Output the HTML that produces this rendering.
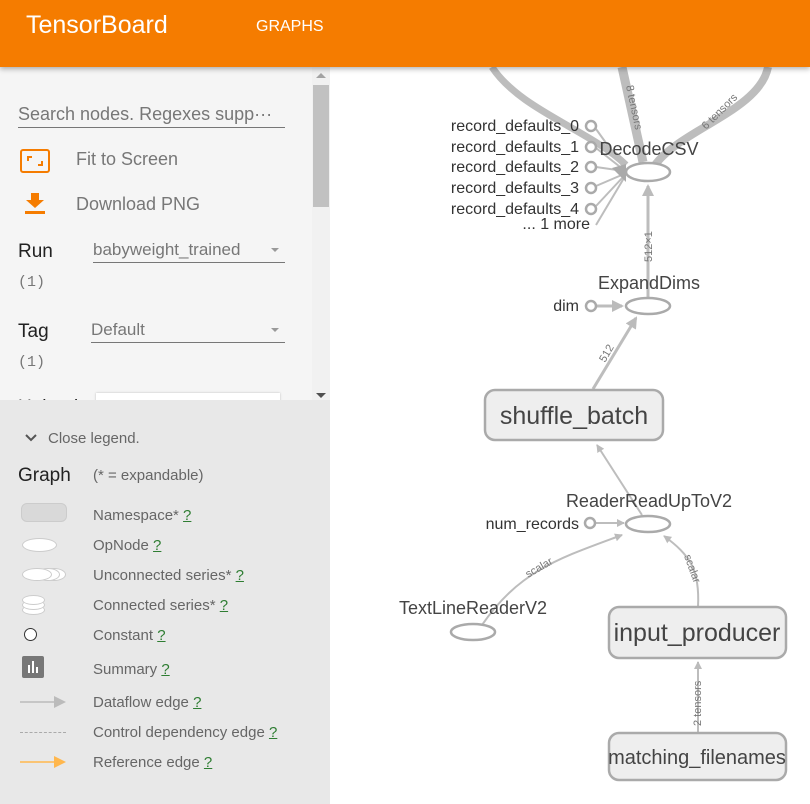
<!DOCTYPE html>
<html><head><meta charset="utf-8"><style>
*{margin:0;padding:0;box-sizing:border-box}
body{width:810px;height:804px;overflow:hidden;font-family:"Liberation Sans",sans-serif;background:#fff;position:relative}
.hdr{position:absolute;left:0;top:0;width:810px;height:67px;background:#f57c00;box-shadow:0 2px 5px rgba(0,0,0,.3);z-index:5}
.hdr .t{position:absolute;left:26px;top:11px;color:#fff;font-size:25px}
.hdr .g{position:absolute;left:256px;top:18px;color:#fff;font-size:16px}
.side{position:absolute;left:0;top:67px;width:330px;height:737px;background:#f5f5f5}
.leg{position:absolute;left:0;top:400px;width:330px;height:404px;background:#e8e8e8}
.a{position:absolute;color:#777;font-size:18px;white-space:nowrap}
.k{position:absolute;color:#222;font-size:19px}
.l{position:absolute;color:#666;font-size:15px;white-space:nowrap}
.l u{color:#2e7d32}
</style></head><body>
<div class="hdr"><div class="t">TensorBoard</div><div class="g">GRAPHS</div></div>
<div class="side">
 <div class="a" style="left:18px;top:37px">Search nodes. Regexes supp···</div>
 <div style="position:absolute;left:18px;top:60px;width:267px;border-top:1px solid #777"></div>
 <div style="position:absolute;left:20px;top:82px;width:30px;height:24px;border:2px solid #f57c00;border-radius:3px"></div>
 <div style="position:absolute;left:27px;top:89px;width:5px;height:5px;border-left:2px solid #f57c00;border-top:2px solid #f57c00"></div>
 <div style="position:absolute;left:38px;top:94px;width:5px;height:5px;border-right:2px solid #f57c00;border-bottom:2px solid #f57c00"></div>
 <div class="a" style="left:76px;top:82px">Fit to Screen</div>
 <svg style="position:absolute;left:24px;top:125px" width="22" height="24"><path d="M7 1h8v7h5l-9 8-9-8h5z" fill="#f57c00"/><rect x="1" y="19" width="20" height="3" fill="#f57c00"/></svg>
 <div class="a" style="left:76px;top:127px">Download PNG</div>
 <div class="k" style="left:18px;top:174px">Run</div>
 <div class="a" style="left:93px;top:173px;font-size:17px">babyweight_trained</div>
 <div style="position:absolute;left:93px;top:195px;width:192px;border-top:1px solid #777"></div>
 <div style="position:absolute;left:271px;top:181px;border:4px solid transparent;border-top:4px solid #999"></div>
 <div class="a" style="left:18px;top:207px;font-size:15px;font-family:'Liberation Mono',monospace">(1)</div>
 <div class="k" style="left:18px;top:254px">Tag</div>
 <div class="a" style="left:91px;top:253px;font-size:17px">Default</div>
 <div style="position:absolute;left:91px;top:275px;width:194px;border-top:1px solid #777"></div>
 <div style="position:absolute;left:271px;top:261px;border:4px solid transparent;border-top:4px solid #999"></div>
 <div class="a" style="left:18px;top:287px;font-size:15px;font-family:'Liberation Mono',monospace">(1)</div>
 <div style="position:absolute;left:96px;top:326px;width:184px;height:12px;background:#fff;box-shadow:0 0 2px #bbb;overflow:hidden;font-size:14px;color:#777;text-align:center;padding-top:6px">Choose File</div>
 <div class="k" style="left:18px;top:330px;height:8px;overflow:hidden">Upload</div>
 <div style="position:absolute;left:312px;top:0;width:18px;height:333px;background:#f1f1f1"></div>
 <div style="position:absolute;left:313px;top:18px;width:16px;height:122px;background:#c1c1c1"></div>
 <div style="position:absolute;left:316px;top:6px;border:5px solid transparent;border-bottom:5px solid #a3a3a3;border-top:0"></div>
 <div style="position:absolute;left:316px;top:326px;border:5px solid transparent;border-top:5px solid #505050;border-bottom:0"></div>
</div>
<div class="leg">
 <svg style="position:absolute;left:24px;top:33px" width="14" height="10"><path d="M2 2l5 5 5-5" stroke="#555" stroke-width="2" fill="none"/></svg>
 <div class="l" style="left:48px;top:30px">Close legend.</div>
 <div class="k" style="left:18px;top:65px">Graph</div>
 <div class="l" style="left:93px;top:67px">(* = expandable)</div>
 <div style="position:absolute;left:21px;top:103px;width:46px;height:19px;background:#d9d9d9;border:1px solid #ccc;border-radius:6px"></div>
 <div class="l" style="left:93px;top:107px">Namespace* <u>?</u></div>
 <div style="position:absolute;left:22px;top:138px;width:35px;height:14px;background:#fff;border:1px solid #ccc;border-radius:50%"></div>
 <div class="l" style="left:93px;top:137px">OpNode <u>?</u></div>
 <div style="position:absolute;left:42px;top:168px;width:24px;height:13px;background:#fff;border:1px solid #ccc;border-radius:50%"></div>
 <div style="position:absolute;left:36px;top:168px;width:24px;height:13px;background:#fff;border:1px solid #ccc;border-radius:50%"></div>
 <div style="position:absolute;left:22px;top:168px;width:30px;height:13px;background:#fff;border:1px solid #ccc;border-radius:50%"></div>
 <div class="l" style="left:93px;top:167px">Unconnected series* <u>?</u></div>
 <div style="position:absolute;left:22px;top:205px;width:23px;height:10px;background:#fff;border:1px solid #ccc;border-radius:50%"></div>
 <div style="position:absolute;left:22px;top:200px;width:23px;height:10px;background:#fff;border:1px solid #ccc;border-radius:50%"></div>
 <div style="position:absolute;left:22px;top:195px;width:23px;height:10px;background:#fff;border:1px solid #ccc;border-radius:50%"></div>
 <div class="l" style="left:93px;top:197px">Connected series* <u>?</u></div>
 <div style="position:absolute;left:24px;top:228px;width:13px;height:13px;background:#fff;border:1px solid #333;border-radius:50%"></div>
 <div class="l" style="left:93px;top:227px">Constant <u>?</u></div>
 <div style="position:absolute;left:22px;top:256px;width:22px;height:22px;background:#777;border-radius:2px"></div>
 <div style="position:absolute;left:28px;top:265px;width:2px;height:8px;background:#fff"></div>
 <div style="position:absolute;left:32px;top:261px;width:2px;height:12px;background:#fff"></div>
 <div style="position:absolute;left:36px;top:267px;width:2px;height:6px;background:#fff"></div>
 <div class="l" style="left:93px;top:261px">Summary <u>?</u></div>
 <svg style="position:absolute;left:20px;top:294px" width="48" height="16"><line x1="0" y1="8" x2="38" y2="8" stroke="#bbb" stroke-width="1.5"/><path d="M34 2l12 6-12 6z" fill="#bbb"/></svg>
 <div class="l" style="left:93px;top:294px">Dataflow edge <u>?</u></div>
 <div style="position:absolute;left:20px;top:332px;width:46px;border-top:1px dashed #aaa"></div>
 <div class="l" style="left:93px;top:324px">Control dependency edge <u>?</u></div>
 <svg style="position:absolute;left:20px;top:354px" width="48" height="16"><line x1="0" y1="8" x2="38" y2="8" stroke="#ffb74d" stroke-width="1.5"/><path d="M34 2l12 6-12 6z" fill="#ffb74d"/></svg>
 <div class="l" style="left:93px;top:354px">Reference edge <u>?</u></div>
</div>
<svg style="position:absolute;left:0;top:0" width="810" height="804" font-family="Liberation Sans, sans-serif">
<defs><marker id="ar" markerWidth="8" markerHeight="8" refX="7" refY="4" orient="auto" markerUnits="userSpaceOnUse"><path d="M0 0L8 4L0 8z" fill="#bbb"/></marker>
<marker id="ar2" markerWidth="12" markerHeight="12" refX="10" refY="6" orient="auto" markerUnits="userSpaceOnUse"><path d="M0 0L12 6L0 12z" fill="#bbb"/></marker></defs>
<g fill="none" stroke="#bdbdbd">
<path d="M492 67 C520 110 590 130 626 165" stroke-width="7"/>
<path d="M622 67 L643 162" stroke-width="9"/>
<path d="M768 67 C760 110 680 130 655 165" stroke-width="8"/>
<g stroke-width="2">
<line x1="596" y1="129" x2="624" y2="168"/><line x1="596" y1="148" x2="624" y2="170"/><line x1="596" y1="167" x2="624" y2="171"/><line x1="596" y1="186" x2="624" y2="174"/><line x1="596" y1="206" x2="624" y2="176"/><line x1="596" y1="225" x2="624" y2="178"/>
<line x1="648" y1="297" x2="648" y2="186" stroke-width="3" marker-end="url(#ar2)"/>
<line x1="597" y1="306" x2="622" y2="306" stroke-width="3" marker-end="url(#ar2)"/>
<line x1="593" y1="389" x2="636" y2="318" stroke-width="3" marker-end="url(#ar2)"/>
<line x1="642" y1="515" x2="597" y2="445" marker-end="url(#ar)"/>
<line x1="596" y1="523" x2="624" y2="523" marker-end="url(#ar)"/>
<path d="M482 625 C520 570 560 558 622 535" marker-end="url(#ar)"/>
<path d="M698 607 C700 570 690 555 664 536" marker-end="url(#ar)"/>
<line x1="698" y1="733" x2="698" y2="662" marker-end="url(#ar)"/>
</g>
<path d="M612 168 L626 164 L626 182 Z" fill="#aaa" stroke="none"/>
<g stroke="#aaa" stroke-width="2.5" fill="#fff">
<circle cx="591" cy="126" r="5"/><circle cx="591" cy="147" r="5"/><circle cx="591" cy="167" r="5"/><circle cx="591" cy="188" r="5"/><circle cx="591" cy="209" r="5"/>
<circle cx="591" cy="306" r="5"/><circle cx="590" cy="523" r="5"/>
<ellipse cx="648" cy="172" rx="22" ry="9"/><ellipse cx="648" cy="306" rx="22" ry="8"/><ellipse cx="648" cy="524" rx="22" ry="8"/><ellipse cx="473" cy="632" rx="22" ry="8"/>
<rect x="485" y="390" width="178" height="50" rx="10" fill="#eee"/>
<rect x="609" y="607" width="177" height="51" rx="10" fill="#eee"/>
<rect x="609" y="733" width="177" height="47" rx="10" fill="#eee"/>
</g></g>
<g fill="#333" font-size="16" text-anchor="end">
<text x="579" y="131">record_defaults_0</text><text x="579" y="152">record_defaults_1</text><text x="579" y="172">record_defaults_2</text><text x="579" y="193">record_defaults_3</text><text x="579" y="214">record_defaults_4</text><text x="590" y="229">... 1 more</text>
<text x="579" y="311">dim</text><text x="579" y="529">num_records</text>
</g>
<g fill="#444" font-size="18" text-anchor="middle">
<text x="649" y="155">DecodeCSV</text><text x="649" y="289">ExpandDims</text><text x="649" y="507">ReaderReadUpToV2</text><text x="473" y="614">TextLineReaderV2</text>
<text x="574" y="424" font-size="25">shuffle_batch</text>
<text x="697" y="641" font-size="25">input_producer</text>
<text x="697" y="764" font-size="20">matching_filenames</text>
</g>
<g fill="#777" font-size="11">
<text transform="translate(626,86) rotate(78)">8 tensors</text>
<text transform="translate(706,130) rotate(-45)">6 tensors</text>
<text transform="translate(652,262) rotate(-90)">512×1</text>
<text transform="translate(605,363) rotate(-60)">512</text>
<text transform="translate(528,578) rotate(-30)">scalar</text>
<text transform="translate(684,556) rotate(70)">scalar</text>
<text transform="translate(701,726) rotate(-90)">2 tensors</text>
</g>
</svg>
</body></html>
